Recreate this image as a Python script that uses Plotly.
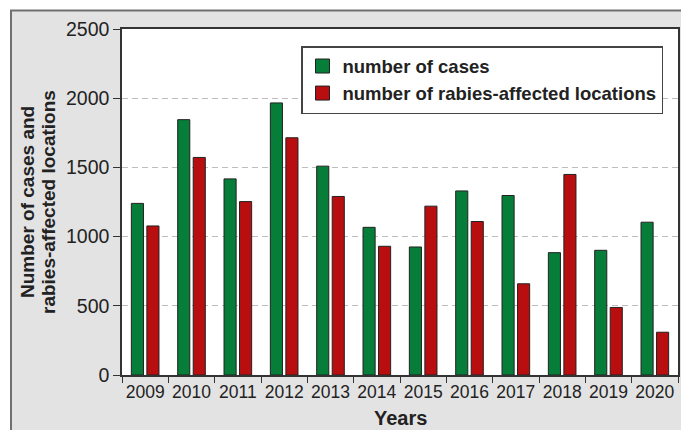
import plotly.graph_objects as go

years = ["2009", "2010", "2011", "2012", "2013", "2014", "2015", "2016", "2017", "2018", "2019", "2020"]
cases = [1240, 1845, 1417, 1966, 1509, 1067, 925, 1330, 1297, 884, 901, 1104]
locations = [1077, 1572, 1253, 1714, 1290, 930, 1220, 1109, 659, 1449, 488, 309]
y_ticks = [0, 500, 1000, 1500, 2000, 2500]
series_names = ["number of cases", "number of rabies-affected locations"]

GREEN = "#067d38"
RED = "#b80e10"
EDGE = "#222222"
FONT = "Liberation Sans, Arial, sans-serif"

W, H = 681, 430
# plot area in window pixels
X0, X1, Y0, Y1 = 122, 678, 29, 375
L, R, T, B = X0, W - X1, Y0, H - Y1
PW = X1 - X0
PH = Y1 - Y0


def px(x):
    return (x - X0) / PW


def py(y):
    return (Y1 - y) / PH


fig = go.Figure()
for name, vals, col in [(series_names[0], cases, GREEN), (series_names[1], locations, RED)]:
    fig.add_bar(x=years, y=vals, name=name, showlegend=False, legendgroup=name,
                marker=dict(color=col, line=dict(color=EDGE, width=1)))
for name, col in [(series_names[0], GREEN), (series_names[1], RED)]:
    fig.add_scatter(x=[None], y=[None], mode="markers", name=name, legendgroup=name,
                    marker=dict(symbol="square", size=14, color=col,
                                line=dict(color=EDGE, width=1)))

fig.update_layout(
    width=W, height=H,
    margin=dict(l=L, r=R, t=T, b=B, autoexpand=False),
    paper_bgcolor="white", plot_bgcolor="white",
    barmode="group", bargap=0.33, bargroupgap=0.22,
    font=dict(family=FONT, color="#222222"),
    showlegend=True,
    legend=dict(x=px(663), xanchor="right", y=py(46), yanchor="top",
                bgcolor="white", bordercolor="#444444", borderwidth=1.5,
                font=dict(family=FONT, size=18.5, weight="bold", color="#222222"),
                tracegroupgap=0, itemwidth=30),
    xaxis=dict(type="category", tickson="boundaries", ticks="outside", ticklen=6,
               tickangle=0,
               tickcolor="#333333", tickwidth=1.2, showline=True, linecolor="#333333",
               linewidth=1.5, mirror=True, showgrid=False,
               tickfont=dict(family=FONT, size=17.5, color="#222222")),
    yaxis=dict(range=[0, 2500], tickvals=y_ticks, ticks="outside", ticklen=7,
               tickcolor="#333333", tickwidth=1.2, showline=True, linecolor="#333333",
               linewidth=1.5, mirror=True, showgrid=True, gridcolor="#bdbdbd",
               gridwidth=1, griddash="6px,4px", zeroline=False,
               tickfont=dict(family=FONT, size=19.5, color="#222222")),
    shapes=[
        dict(type="rect", xref="paper", yref="paper", layer="below",
             x0=px(11), x1=px(720), y0=py(470), y1=py(10.5),
             fillcolor="#e3e3e3", line=dict(color="#707070", width=2)),
        dict(type="rect", xref="paper", yref="paper", layer="below",
             x0=0, x1=1, y0=0, y1=1, fillcolor="white", line=dict(width=0)),
    ],
    annotations=[
        dict(text="Number of cases and", xref="paper", yref="paper",
             x=px(27), y=py(202), xanchor="center", yanchor="middle", textangle=-90,
             showarrow=False, font=dict(family=FONT, size=19, weight="bold", color="#222222")),
        dict(text="rabies-affected locations", xref="paper", yref="paper",
             x=px(48), y=py(202), xanchor="center", yanchor="middle", textangle=-90,
             showarrow=False, font=dict(family=FONT, size=19, weight="bold", color="#222222")),
        dict(text="Years", xref="paper", yref="paper",
             x=px(400), y=py(418), xanchor="center", yanchor="middle",
             showarrow=False, font=dict(family=FONT, size=20, weight="bold", color="#222222")),
    ],
)

fig.write_html(
    "out.html",
    config={"displayModeBar": False},
    post_script="document.body.style.margin='0';document.body.style.overflow='hidden';",
)
